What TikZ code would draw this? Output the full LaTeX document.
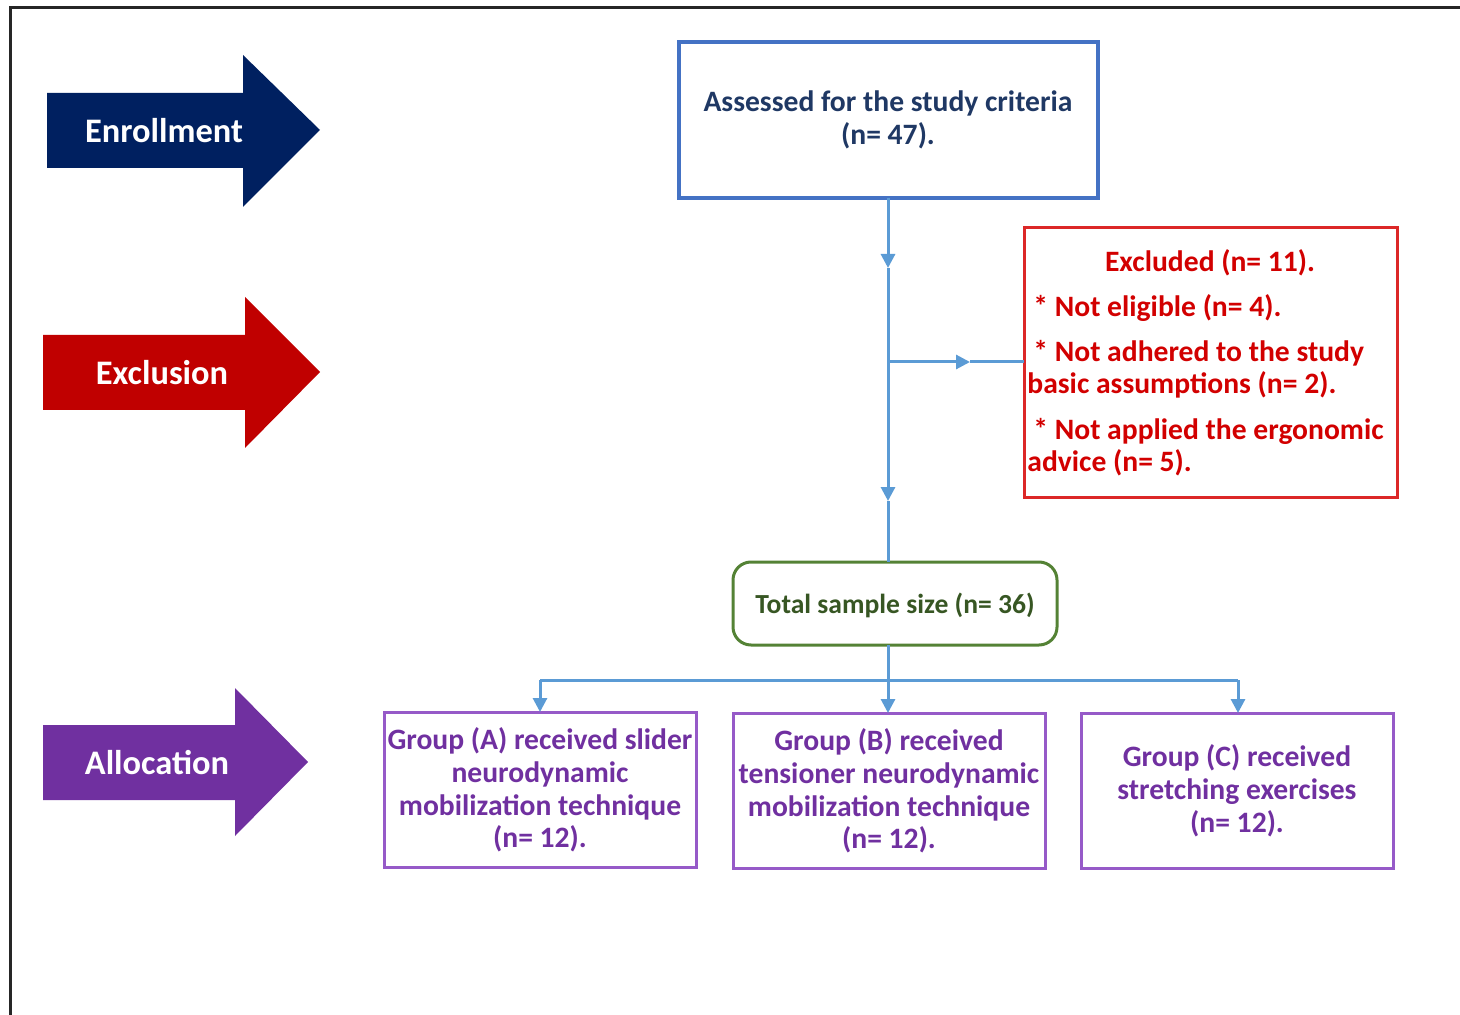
\documentclass[tikz,border=0pt]{standalone}
\usepackage{fontspec}
\setmainfont{Carlito}
\usetikzlibrary{arrows.meta}
\definecolor{navy}{RGB}{0,32,96}
\definecolor{exred}{RGB}{192,0,0}
\definecolor{alpurple}{RGB}{112,48,160}
\definecolor{boxblue}{RGB}{68,114,196}
\definecolor{txtblue}{RGB}{31,56,100}
\definecolor{boxred}{RGB}{220,40,40}
\definecolor{txtred}{RGB}{210,0,0}
\definecolor{boxgreen}{RGB}{84,130,53}
\definecolor{txtgreen}{RGB}{55,86,35}
\definecolor{grpurple}{RGB}{150,90,200}
\definecolor{txtpurple}{RGB}{112,48,160}
\definecolor{conn}{RGB}{91,155,213}
\begin{document}
\begin{tikzpicture}[x=0.5pt,y=-0.5pt,
  armlabel/.style={text=white,font=\bfseries\fontsize{17.2}{20}\selectfont},
  boxtxt/.style={font=\bfseries\fontsize{14.8}{16.4}\selectfont,align=center},
  connline/.style={draw=conn,line width=1.5pt},
  tip/.style={-{Triangle[length=7pt,width=7pt]}}
]
\useasboundingbox (0,0) rectangle (1460,1015);
% frame
\draw[line width=1.5pt,black!85] (1460,8) -- (10,8) -- (10,1015);
% side arrows
\fill[navy] (47,93) -- (243,93) -- (243,55) -- (320,130) -- (243,207) -- (243,168) -- (47,168) -- cycle;
\node[armlabel] (enr) at (164,131) {Enrollment};
\fill[exred] (43,335) -- (245,335) -- (245,297) -- (320,372) -- (245,448) -- (245,410) -- (43,410) -- cycle;
\node[armlabel] (exc) at (162,373) {Exclusion};
\fill[alpurple] (43,725) -- (235,725) -- (235,688) -- (308,762) -- (235,836) -- (235,800) -- (43,800) -- cycle;
\node[armlabel] (alo) at (157,763) {Allocation};
% boxes
\draw[boxblue,line width=1.6pt] (679,42) rectangle (1098,198);
\node[boxtxt,text=txtblue] (assesst) at (888,120) {Assessed for the study criteria\\(n= 47).};
\coordinate (assess) at (888,198);
\draw[boxred,line width=1.5pt] (1024,228) rectangle (1397,497);
\node[boxtxt,text=txtred] (e0) at (1210,263) {Excluded (n= 11).};
\node[boxtxt,text=txtred,anchor=west,inner sep=0] (e1) at (1033,308) {* Not eligible (n= 4).};
\node[boxtxt,text=txtred,anchor=west,inner sep=0] (e2) at (1033,353) {* Not adhered to the study};
\node[boxtxt,text=txtred,anchor=west,inner sep=0] (e3) at (1027,385) {basic assumptions (n= 2).};
\node[boxtxt,text=txtred,anchor=west,inner sep=0] (e4) at (1033,431) {* Not applied the ergonomic};
\node[boxtxt,text=txtred,anchor=west,inner sep=0] (e5) at (1027,463) {advice (n= 5).};
\coordinate (excl) at (1024,362);
\draw[boxgreen,line width=1.5pt,rounded corners=9pt] (733,562) rectangle (1057,645);
\node[boxtxt,text=txtgreen,font=\bfseries\fontsize{13.8}{16}\selectfont] (totalt) at (895,605) {Total sample size (n= 36)};
\coordinate (totaltop) at (888,562);
\coordinate (totalbot) at (888,645);
\draw[grpurple,line width=1.5pt] (384,712) rectangle (696,867);
\node[boxtxt,text=txtpurple] (ga) at (540,790) {Group (A) received slider\\neurodynamic\\mobilization technique\\(n= 12).};
\draw[grpurple,line width=1.5pt] (733,713) rectangle (1045,868);
\node[boxtxt,text=txtpurple] (gb) at (889,791) {Group (B) received\\tensioner neurodynamic\\mobilization technique\\(n= 12).};
\draw[grpurple,line width=1.5pt] (1081,713) rectangle (1393,868);
\node[boxtxt,text=txtpurple] (gc) at (1237,791) {Group (C) received\\stretching exercises\\(n= 12).};
\coordinate (gatop) at (540,712);
\coordinate (gbtop) at (888,713);
\coordinate (gctop) at (1238,713);
% connectors
\coordinate (m1) at (888,268);
\coordinate (br) at (888,362);
\coordinate (m2) at (888,501);
\coordinate (hm) at (970,362);
\draw[connline,tip] (assess) -- (m1);
\draw[connline] (m1) -- (br);
\draw[connline,tip] (br) -- (m2);
\draw[connline] (m2) -- (totaltop);
\draw[connline,tip] (br) -- (hm);
\draw[connline] (hm) -- (excl);
\coordinate (jn) at (888,680);
\coordinate (jl) at (540,680);
\coordinate (jr) at (1238,680);
\draw[connline] (totalbot) -- (jn);
\draw[connline] (jl) -- (jr);
\draw[connline,tip] (jl) -- (gatop);
\draw[connline,tip] (jn) -- (gbtop);
\draw[connline,tip] (jr) -- (gctop);
\end{tikzpicture}
\end{document}
